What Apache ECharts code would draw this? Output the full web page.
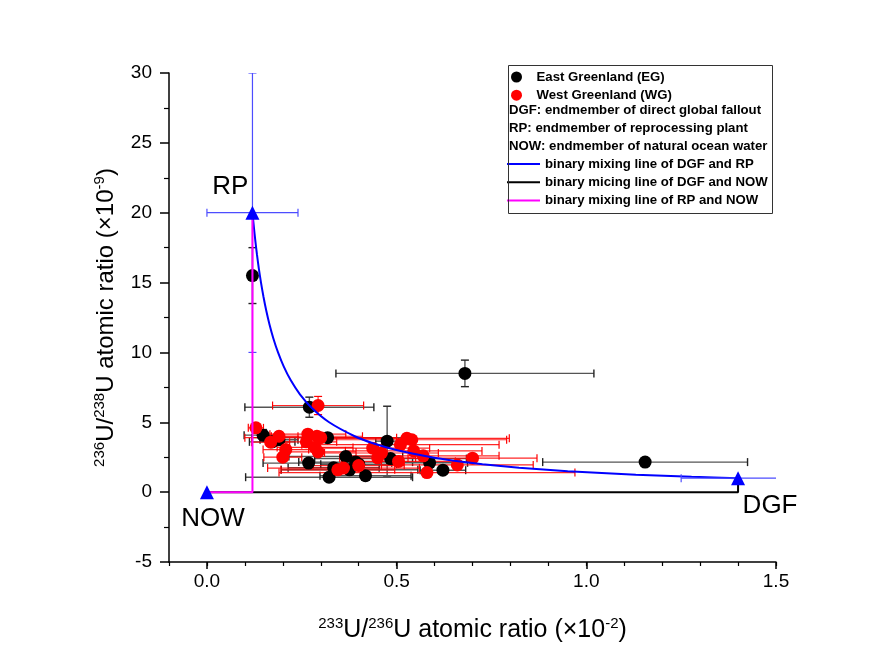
<!DOCTYPE html>
<html>
<head>
<meta charset="utf-8">
<script src="https://cdn.jsdelivr.net/npm/echarts@6/dist/echarts.min.js"></script>
<style>html,body{margin:0;padding:0;background:#fff}#c{width:883px;height:669px}</style>
</head>
<body>
<div id="c"></div>
<script>
// ---- data ----
const xTickValues = [0, 0.5, 1.0, 1.5];
const yTickValues = [-5, 0, 5, 10, 15, 20, 25, 30];

// East Greenland (EG): x = 233U/236U (x10^-2), y = 236U/238U (x10^-9)
const egX    = [0.12, 0.68, 1.155, 0.27, 0.475, 0.148, 0.172, 0.19, 0.318, 0.268, 0.366, 0.392, 0.334, 0.322, 0.418, 0.376, 0.484, 0.587, 0.622, 0.40];
const egY    = [15.5, 8.5, 2.15, 6.08, 3.65, 4.08, 3.6, 3.75, 3.9, 2.08, 2.55, 2.15, 1.75, 1.07, 1.18, 1.6, 2.4, 2.1, 1.57, 2.0];
const egXErr = [0.01, 0.34, 0.27, 0.17, 0.03, 0.05, 0.06, 0.05, 0.2, 0.12, 0.15, 0.15, 0.12, 0.22, 0.12, 0.18, 0.2, 0.1, 0.06, 0.1];
const egYErr = [2.0, 0.95, 0.25, 0.72, 2.5, 0.4, 0.3, 0.3, 0.3, 0.3, 0.3, 0.3, 0.25, 0.3, 0.3, 0.25, 0.3, 0.25, 0.2, 0.2];

// West Greenland (WG)
const wgX    = [0.129, 0.19, 0.168, 0.208, 0.2, 0.266, 0.29, 0.285, 0.262, 0.293, 0.293, 0.30, 0.36, 0.345, 0.437, 0.46, 0.505, 0.527, 0.51, 0.545, 0.57, 0.58, 0.66, 0.70, 0.54, 0.45, 0.40];
const wgY    = [4.6, 4.0, 3.58, 3.05, 2.5, 4.15, 4.0, 3.2, 3.6, 2.88, 6.2, 3.9, 1.72, 1.6, 3.15, 2.8, 2.2, 3.85, 3.4, 2.95, 2.6, 1.4, 1.95, 2.43, 3.75, 2.45, 1.9];
const wgXErr = [0.02, 0.05, 0.05, 0.06, 0.05, 0.1, 0.12, 0.1, 0.08, 0.1, 0.12, 0.2, 0.2, 0.15, 0.15, 0.15, 0.15, 0.27, 0.26, 0.18, 0.2, 0.39, 0.2, 0.17, 0.25, 0.1, 0.12];
const wgYErr = [0.3, 0.3, 0.3, 0.3, 0.3, 0.3, 0.3, 0.3, 0.3, 0.3, 0.65, 0.3, 0.2, 0.2, 0.3, 0.3, 0.3, 0.3, 0.3, 0.3, 0.3, 0.2, 0.2, 0.2, 0.3, 0.2, 0.2];

// Endmembers
const endNames = ['DGF: endmember of direct global fallout', 'RP: endmember of reprocessing plant', 'NOW: endmember of natural ocean water'];
const endLabels = ['DGF', 'RP', 'NOW'];
const endX    = [1.4, 0.12, 0];
const endY    = [1.0, 20, 0];
const endXErr = [0.15, 0.12, 0];
const endYErr = [0, 10, 0];

// Mixing lines
const mixDgfRpX = [0.12, 0.1236, 0.1275, 0.1319, 0.1368, 0.1425, 0.1489, 0.1563, 0.1649, 0.1751, 0.1874, 0.2023, 0.221, 0.2451, 0.2772, 0.3221, 0.3895, 0.4376, 0.5018, 0.5916, 0.6515, 0.7263, 0.8226, 0.9509, 1.1305, 1.2775, 1.4];
const mixDgfRpY = [20, 19, 18, 17, 16, 15, 14, 13, 12, 11, 10, 9, 8, 7, 6, 5, 4, 3.5, 3, 2.5, 2.25, 2, 1.75, 1.5, 1.25, 1.1, 1.0];
const mixDgfNowX = [0, 1.4, 1.4];
const mixDgfNowY = [0, 0, 1.0];
const mixRpNowX = [0, 0.12, 0.12];
const mixRpNowY = [0, 0, 20];

const lineNames = ['binary mixing line of DGF and RP', 'binary micing line of DGF and NOW', 'binary mixing line of RP and NOW'];

// ---- build ----
const FONT = 'Liberation Sans, Arial, sans-serif';
const zip = (a, b) => a.map((v, i) => [v, b[i]]);
const zip4 = (a, b, c, d) => a.map((v, i) => [v, b[i], c[i], d[i]]);

function errRender(barColor, capColor, lw) {
  return function (params, api) {
    const x = api.value(0), y = api.value(1), xe = api.value(2), ye = api.value(3);
    const ch = [];
    const cap = 4;
    const st = { stroke: barColor, lineWidth: lw };
    const cst = { stroke: capColor, lineWidth: lw };
    if (xe > 0) {
      const l = api.coord([x - xe, y]), r = api.coord([x + xe, y]);
      ch.push({ type: 'line', shape: { x1: l[0], y1: l[1], x2: r[0], y2: r[1] }, style: st });
      ch.push({ type: 'line', shape: { x1: l[0], y1: l[1] - cap, x2: l[0], y2: l[1] + cap }, style: cst });
      ch.push({ type: 'line', shape: { x1: r[0], y1: r[1] - cap, x2: r[0], y2: r[1] + cap }, style: cst });
    }
    if (ye > 0) {
      const b = api.coord([x, y - ye]), t = api.coord([x, y + ye]);
      ch.push({ type: 'line', shape: { x1: b[0], y1: b[1], x2: t[0], y2: t[1] }, style: st });
      ch.push({ type: 'line', shape: { x1: b[0] - cap, y1: b[1], x2: b[0] + cap, y2: b[1] }, style: cst });
      ch.push({ type: 'line', shape: { x1: t[0] - cap, y1: t[1], x2: t[0] + cap, y2: t[1] }, style: cst });
    }
    return { type: 'group', children: ch };
  };
}

const labelOffsets = { DGF: [32, 3], RP: [8, -26], NOW: [6, 2] };
const labelPos = { DGF: 'bottom', RP: 'left', NOW: 'bottom' };

const series = [
  { type: 'custom', name: 'egErr', clip: true, z: 1, renderItem: errRender('#555', '#222', 1.4), data: zip4(egX, egY, egXErr, egYErr), encode: { x: 0, y: 1 } },
  { type: 'custom', name: 'wgErr', clip: true, z: 1, renderItem: errRender('rgba(255,0,0,0.85)', '#ff0000', 1.2), data: zip4(wgX, wgY, wgXErr, wgYErr), encode: { x: 0, y: 1 } },
  { type: 'scatter', name: 'East Greenland (EG)', z: 2, symbol: 'circle', symbolSize: 13, itemStyle: { color: '#000', opacity: 1 }, data: zip(egX, egY) },
  { type: 'scatter', name: 'West Greenland (WG)', z: 3, symbol: 'circle', symbolSize: 13, itemStyle: { color: '#ff0000', opacity: 1 }, data: zip(wgX, wgY) },
  { type: 'line', name: lineNames[1], z: 4, symbol: 'none', lineStyle: { color: '#000', width: 2 }, itemStyle: { color: '#000' }, data: zip(mixDgfNowX, mixDgfNowY) },
  { type: 'line', name: lineNames[0], z: 5, symbol: 'none', smooth: 0.2, lineStyle: { color: '#0000ff', width: 2 }, itemStyle: { color: '#0000ff' }, data: zip(mixDgfRpX, mixDgfRpY) },
  { type: 'line', name: lineNames[2], z: 6, symbol: 'none', lineStyle: { color: '#ff00ff', width: 2 }, itemStyle: { color: '#ff00ff' }, data: zip(mixRpNowX, mixRpNowY) },
  { type: 'custom', name: 'endErr', clip: true, z: 6, renderItem: errRender('#4d4dff', '#4d4dff', 1.2), data: zip4(endX, endY, endXErr, endYErr), encode: { x: 0, y: 1 } }
];
endNames.forEach((nm, i) => {
  const lb = endLabels[i];
  series.push({
    type: 'scatter', name: nm, z: 7, symbol: 'triangle', symbolSize: 14,
    itemStyle: { color: '#0000ff', opacity: 1 },
    label: { show: true, formatter: lb, position: labelPos[lb], offset: labelOffsets[lb], color: '#000', fontSize: 26, fontFamily: FONT },
    data: [[endX[i], endY[i]]]
  });
});

const legendText = { color: '#000', fontSize: 13.2, fontWeight: 'bold', fontFamily: FONT, lineHeight: 15 };

const option = {
  animation: false,
  backgroundColor: '#fff',
  grid: { left: 169, right: 107, top: 73, bottom: 107, containLabel: false },
  xAxis: [
    {
      type: 'value', min: -0.1, max: 1.5,
      name: '{s|233}U/{s|236}U atomic ratio (×10{s|-2})',
      nameLocation: 'middle', nameGap: 54,
      nameTextStyle: { color: '#000', fontSize: 25, fontFamily: FONT, lineHeight: 28, rich: { s: { fontSize: 15, lineHeight: 15, verticalAlign: 'top', fontFamily: FONT, color: '#000' } } },
      axisLine: { show: true, onZero: false, lineStyle: { color: '#000', width: 1.5 } },
      axisTick: { show: true, length: 7, customValues: xTickValues, lineStyle: { color: '#000', width: 1.5 } },
      axisLabel: { show: true, customValues: xTickValues, margin: 10, color: '#000', fontSize: 19, fontFamily: FONT, formatter: v => Number(v).toFixed(1) },
      splitLine: { show: false }
    },
    {
      type: 'value', min: -0.1, max: 1.5, interval: 0.1, position: 'bottom',
      axisLine: { show: false, onZero: false },
      axisTick: { show: true, length: 4, lineStyle: { color: '#000', width: 1.2 } },
      axisLabel: { show: false },
      splitLine: { show: false }
    }
  ],
  yAxis: {
    type: 'value', min: -5, max: 30, interval: 5,
    name: '{s|236}U/{s|238}U atomic ratio (×10{s|-9})',
    nameLocation: 'middle', nameGap: 46,
    nameTextStyle: { color: '#000', fontSize: 24, fontFamily: FONT, lineHeight: 28, rich: { s: { fontSize: 15, lineHeight: 15, verticalAlign: 'top', fontFamily: FONT, color: '#000' } } },
    axisLine: { show: true, onZero: false, lineStyle: { color: '#000', width: 1.5 } },
    axisTick: { show: true, length: 9, lineStyle: { color: '#000', width: 1.5 } },
    minorTick: { show: true, splitNumber: 2, length: 5, lineStyle: { color: '#000', width: 1.2 } },
    axisLabel: { color: '#000', fontSize: 19, fontFamily: FONT, margin: 17 },
    splitLine: { show: false }
  },
  legend: [
    { left: 506, top: 64.5, orient: 'vertical', itemWidth: 30, itemHeight: 11, itemGap: 3.2, textStyle: legendText, selectedMode: false,
      data: [{ name: 'East Greenland (EG)', icon: 'circle' }, { name: 'West Greenland (WG)', icon: 'circle' }] },
    { left: 499, top: 97.5, orient: 'vertical', itemWidth: 0, itemHeight: 0, itemGap: 3.2, textStyle: legendText, selectedMode: false,
      data: endNames.map(n => ({ name: n, icon: 'rect', itemStyle: { opacity: 0 } })) },
    { left: 502, top: 151.5, orient: 'vertical', itemWidth: 33, itemHeight: 2, itemGap: 3.2, textStyle: legendText, selectedMode: false,
      data: lineNames.map(n => ({ name: n, icon: 'rect' })) }
  ],
  graphic: [
    { type: 'rect', left: 506, top: 63, shape: { width: 264, height: 148 }, style: { fill: 'none', stroke: '#333', lineWidth: 1 }, z: 100 }
  ],
  series: series
};

const chart = echarts.init(document.getElementById('c'), null, { renderer: 'canvas' });
chart.setOption(option);
</script>
</body>
</html>
